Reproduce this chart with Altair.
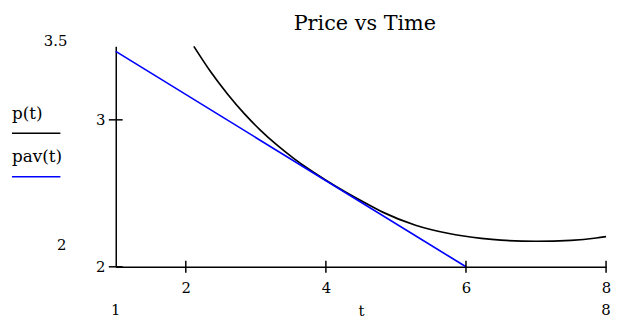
import altair as alt
import pandas as pd

# ---- data ----
T_P = [2.115, 2.355, 2.595, 2.835, 3.06, 3.30, 3.54, 3.77, 4.0, 4.57, 4.81,
       5.28, 5.74, 6.22, 6.5, 7.0, 7.5, 7.86, 8.0]
P_VALUES = [3.500, 3.327, 3.176, 3.042, 2.932, 2.829, 2.738, 2.660, 2.589,
            2.432, 2.372, 2.283, 2.228, 2.193, 2.181, 2.174, 2.180, 2.196, 2.206]
T_PAV = [1.0, 6.0]
PAV_VALUES = [3.466, 2.0]
X_TICKS = [2, 4, 6, 8]
Y_TICKS = [2, 3]
X_LIMITS = [1, 8]
Y_LIMITS = [2, 3.5]
SERIES = ["p(t)", "pav(t)"]
COLORS = ["#000000", "#0000ff"]
TITLE = "Price vs Time"
X_TITLE = "t"

W, H = 496, 223
FONT = "DejaVu Serif, Liberation Serif, serif"
FS = 15

xs = alt.Scale(domain=X_LIMITS, nice=False, zero=False)
ys = alt.Scale(domain=Y_LIMITS, nice=False, zero=False)

df_p = pd.DataFrame({"t": T_P, "p": P_VALUES})
df_pav = pd.DataFrame({"t": T_PAV, "p": PAV_VALUES})

x_axis = alt.Axis(values=X_TICKS, ticks=False, labelPadding=14, grid=False,
                  domainColor="black", domainWidth=1.5, title=X_TITLE,
                  titleY=44, titleBaseline="middle", labelFlush=False,
                  format="d")
y_axis = alt.Axis(values=Y_TICKS, ticks=False, labelPadding=11, grid=False,
                  domainColor="black", domainWidth=1.5, title=None, format="d")

p_line = alt.Chart(df_p).mark_line(color=COLORS[0], strokeWidth=1.7,
                                   interpolate="monotone").encode(
    x=alt.X("t:Q", scale=xs, axis=x_axis),
    y=alt.Y("p:Q", scale=ys, axis=y_axis),
)
pav_line = alt.Chart(df_pav).mark_line(color=COLORS[1], strokeWidth=1.7).encode(
    x=alt.X("t:Q", scale=xs),
    y=alt.Y("p:Q", scale=ys),
)

# crossing tick marks
xt = alt.Chart(pd.DataFrame({"t": X_TICKS})).mark_rule(color="black", strokeWidth=1.5).encode(
    x=alt.X("t:Q", scale=xs), y=alt.value(H - 6), y2=alt.value(H + 6))
yt = alt.Chart(pd.DataFrame({"p": Y_TICKS})).mark_rule(color="black", strokeWidth=1.5).encode(
    y=alt.Y("p:Q", scale=ys), x=alt.value(-7), x2=alt.value(7))

# range limit labels (Mathcad style)
xlim = alt.Chart(pd.DataFrame({"t": X_LIMITS, "lab": [str(v) for v in X_LIMITS]})).mark_text(
    font=FONT, fontSize=FS, align="center", baseline="middle", color="black").encode(
    x=alt.X("t:Q", scale=xs), y=alt.value(267), text="lab:N")
ylim_top = alt.Chart(pd.DataFrame({"p": [Y_LIMITS[1]], "lab": [str(Y_LIMITS[1])]})).mark_text(
    font=FONT, fontSize=FS, align="right", baseline="middle", dy=-5, color="black").encode(
    y=alt.Y("p:Q", scale=ys), x=alt.value(-49), text="lab:N")
ylim_bot = alt.Chart(pd.DataFrame({"p": [Y_LIMITS[0]], "lab": [str(Y_LIMITS[0])]})).mark_text(
    font=FONT, fontSize=FS, align="right", baseline="middle", dy=-22, color="black").encode(
    y=alt.Y("p:Q", scale=ys), x=alt.value(-50), text="lab:N")

# chart title as a text mark centred over the plot
title_mark = alt.Chart(pd.DataFrame({"lab": [TITLE]})).mark_text(
    font=FONT, fontSize=21, align="center", baseline="alphabetic", color="black").encode(
    x=alt.value(W / 2 + 4), y=alt.value(-17), text="lab:N")

# legend: label above a line sample
legend_layers = []
for i, (name, col) in enumerate(zip(SERIES, COLORS)):
    ly = 68 + i * 44
    legend_layers.append(
        alt.Chart(pd.DataFrame({"lab": [name]})).mark_text(
            font=FONT, fontSize=17, align="left", baseline="middle", color="black").encode(
            x=alt.value(-105), y=alt.value(ly), text="lab:N"))
    legend_layers.append(
        alt.Chart(pd.DataFrame({"lab": [name]})).mark_rule(color=col, strokeWidth=1.5).encode(
            x=alt.value(-105), x2=alt.value(-56), y=alt.value(ly + 20)))

chart = alt.layer(p_line, pav_line, xt, yt, xlim, ylim_top, ylim_bot, title_mark,
                  *legend_layers).properties(
    width=W, height=H,
    autosize=alt.AutoSizeParams(type="none"),
    padding={"left": 109, "top": 37, "right": 6, "bottom": 50},
).configure_view(stroke=None).configure_axis(
    labelFont=FONT, labelFontSize=FS, labelColor="black",
    titleFont=FONT, titleFontSize=FS, titleFontWeight="normal", titleColor="black",
)

chart.save("out.html", embed_options={"renderer": "svg", "actions": False})
